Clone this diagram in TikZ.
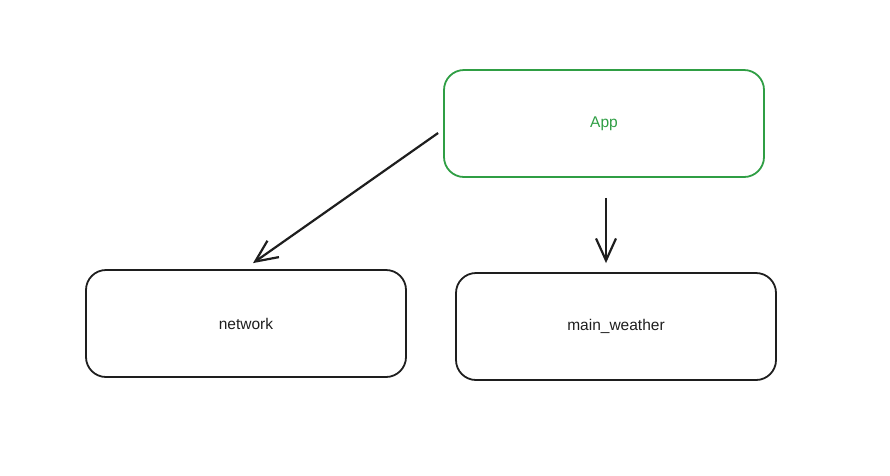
\documentclass[tikz,border=0pt]{standalone}
\usepackage{fontspec}
\setmainfont{Liberation Sans}
\usetikzlibrary{arrows.meta}
\definecolor{exgreen}{HTML}{2F9E44}
\definecolor{exblack}{HTML}{1E1E1E}
\begin{document}
\begin{tikzpicture}[x=1pt,y=-1pt,
  box/.style={draw=exblack, line width=1.8pt, rounded corners=20pt, minimum width=320pt, minimum height=107pt, inner sep=0pt, font=\fontsize{15.5}{18}\selectfont, text=exblack},
  greenbox/.style={box, draw=exgreen, text=exgreen},
  conn/.style={draw=exblack, line width=2.2pt, -{Straight Barb[length=22pt,width=20pt,line width=2.2pt]}}]
\useasboundingbox (0,0) rectangle (890,475);
\node[greenbox] (app) at (604,123.5) {App};
\node[box] (network) at (246,323.5) {network};
\node[box] (mainw) at (616,326.5) {main\_weather};
\draw[conn] ([xshift=-5pt,yshift=-9.5pt]app.west) -- ([xshift=7pt,yshift=6pt]network.north);
\draw[conn] ([xshift=2pt,yshift=-20pt]app.south) -- ([xshift=-10pt,yshift=9pt]mainw.north);
\end{tikzpicture}
\end{document}
